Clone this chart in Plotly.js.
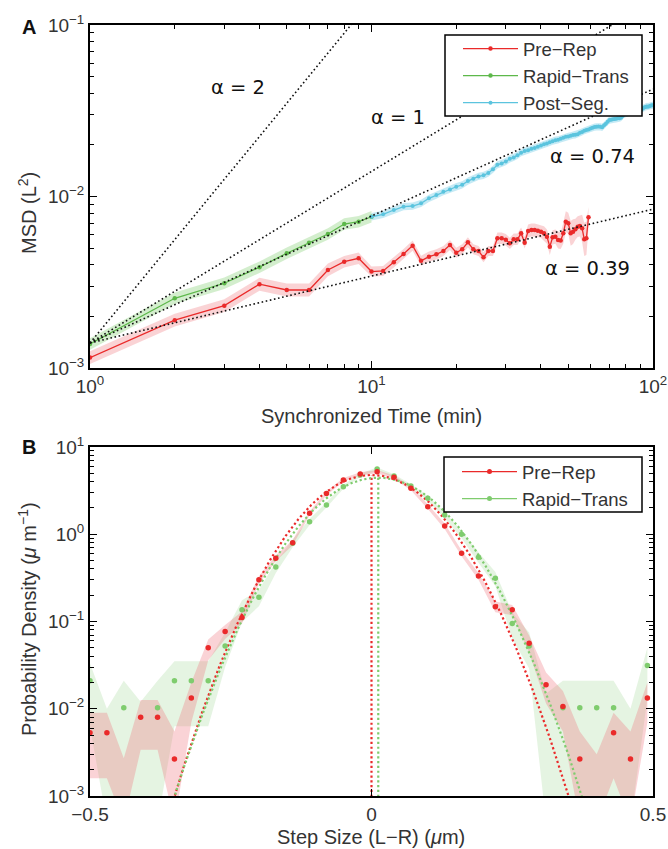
<!DOCTYPE html>
<html><head><meta charset="utf-8">
<script src="https://cdn.plot.ly/plotly-3.0.1.min.js"></script>
<style>body{margin:0;background:#fff}#chart{width:668px;height:849px}</style>
</head><body><div id="chart"></div>
<script>
// ---------- Panel A data ----------
const preRepT = [1,2,3,4,5,6,7,8,9,10,11,12,13,14,15,16,17,18,19,20,21,22,23,24,25,26,27,28,29,30,31,32,33,34,35,36,37,38,39,40,41,42,43,44,45,46,47,48,49,50,51,52,53,54,55,56,57,58,59];
const preRepMSD = [1.15e-3,1.90e-3,2.31e-3,3.08e-3,2.85e-3,2.85e-3,3.73e-3,4.17e-3,4.36e-3,3.65e-3,
  3.68e-3,4.13e-3,4.62e-3,5.17e-3,4.22e-3,4.46e-3,4.60e-3,4.81e-3,5.21e-3,4.70e-3,
  4.92e-3,5.41e-3,4.92e-3,4.81e-3,4.42e-3,4.81e-3,4.81e-3,5.71e-3,5.71e-3,5.60e-3,
  5.33e-3,5.63e-3,5.63e-3,6.10e-3,5.38e-3,6.29e-3,6.38e-3,6.38e-3,6.32e-3,6.24e-3,
  6.10e-3,5.83e-3,5.10e-3,5.78e-3,5.83e-3,5.58e-3,5.53e-3,6.10e-3,7.13e-3,6.98e-3,
  6.10e-3,6.24e-3,6.44e-3,6.67e-3,6.73e-3,6.52e-3,5.63e-3,5.70e-3,7.56e-3];
const preRepErr = [0.09,0.09,0.09,0.09,0.09,0.09,0.09,0.08,0.08,0.07,
  0.07,0.07,0.07,0.07,0.07,0.07,0.07,0.07,0.07,0.07,
  0.07,0.07,0.07,0.07,0.07,0.07,0.07,0.08,0.08,0.08,
  0.08,0.08,0.08,0.08,0.08,0.09,0.09,0.09,0.09,0.09,
  0.10,0.10,0.12,0.10,0.10,0.12,0.12,0.15,0.15,0.15,
  0.18,0.18,0.15,0.15,0.15,0.20,0.25,0.25,0.15];

const rapidT = [1,2,3,4,5,6,7,8,9,10];
const rapidMSD = [1.38e-3,2.55e-3,3.12e-3,3.87e-3,4.67e-3,5.38e-3,6.04e-3,6.91e-3,7.13e-3,7.62e-3];
const rapidErr = 0.08;

const postT = [10,11,12,13,14,15,16,17,18,19,20,21,22,23,24,25,26,27,28,29,30,31,32,33,34,35,36,37,38,39,40,41,42,43,44,45,46,47,48,49,50,51,52,53,54,55,56,57,58,59,60,61,62,63,64,65,66,67,68,69,70,71,72,73,74,75,76,77,78,79,80,81,82,83,84,85,86,87,88,89,90,91,92,93,94,95,96,97,98,99,100];
const postMSD = [7.62e-3,7.87e-3,8.34e-3,8.72e-3,8.80e-3,9.12e-3,9.76e-3,1.02e-2,1.067e-2,1.10e-2,
  1.14e-2,1.17e-2,1.23e-2,1.27e-2,1.31e-2,1.33e-2,1.37e-2,1.44e-2,1.53e-2,1.56e-2,
  1.60e-2,1.66e-2,1.69e-2,1.74e-2,1.80e-2,1.84e-2,1.86e-2,1.90e-2,1.92e-2,1.95e-2,
  1.98e-2,2.02e-2,2.04e-2,2.07e-2,2.10e-2,2.13e-2,2.14e-2,2.17e-2,2.20e-2,2.23e-2,
  2.24e-2,2.26e-2,2.28e-2,2.29e-2,2.31e-2,2.35e-2,2.38e-2,2.42e-2,2.44e-2,2.46e-2,
  2.49e-2,2.52e-2,2.54e-2,2.55e-2,2.56e-2,2.55e-2,2.53e-2,2.60e-2,2.66e-2,2.73e-2,
  2.79e-2,2.80e-2,2.82e-2,2.83e-2,2.84e-2,2.86e-2,2.86e-2,2.88e-2,2.95e-2,3.02e-2,
  3.06e-2,3.07e-2,3.08e-2,3.10e-2,3.12e-2,3.14e-2,3.15e-2,3.16e-2,3.18e-2,3.19e-2,
  3.19e-2,3.22e-2,3.26e-2,3.30e-2,3.33e-2,3.35e-2,3.34e-2,3.36e-2,3.38e-2,3.40e-2,3.41e-2];
const postErr = 0.05;

// reference power laws MSD = refPrefactor * t^alpha
const refAlphas = [2, 1, 0.74, 0.39];
const refLabels = ['α = 2', 'α = 1', 'α = 0.74', 'α = 0.39'];
const refPrefactor = 1.4e-3;
const refTRange = [1, 100];

// ---------- Panel B data ----------
const stepBins = [-0.50,-0.47,-0.44,-0.41,-0.38,-0.35,-0.32,-0.29,-0.26,-0.23,-0.20,-0.17,-0.14,-0.11,-0.08,-0.05,-0.02,0.01,0.04,0.07,0.10,0.13,0.16,0.19,0.22,0.25,0.28,0.31,0.34,0.37,0.40,0.43,0.46,0.49];
const preRepPD = [5.3e-3,5.3e-3,null,8.0e-3,8.0e-3,2.65e-3,1.33e-2,5.0e-2,7.7e-2,0.111,0.30,0.53,0.80,1.74,2.94,4.19,4.91,5.21,4.5,3.36,2.07,1.24,0.605,0.333,0.148,0.136,0.0564,0.0188,0.0106,2.65e-3,null,5.3e-3,2.65e-3,1.33e-2];
const preRepLo = [1.6e-3,1.6e-3,5e-4,3.4e-3,3.4e-3,5e-4,7.0e-3,3.6e-2,6.3e-2,0.095,0.27,0.49,0.75,1.65,2.8,4.0,4.7,5.0,4.3,3.2,1.95,1.15,0.56,0.30,0.128,0.118,0.044,0.0115,5.5e-3,5e-4,5e-4,1.6e-3,5e-4,7.0e-3];
const preRepHi = [9.0e-3,9.0e-3,2.7e-3,1.26e-2,1.26e-2,5.5e-3,2.0e-2,6.2e-2,9.1e-2,0.13,0.33,0.57,0.86,1.83,3.1,4.4,5.15,5.45,4.7,3.55,2.2,1.33,0.65,0.36,0.17,0.155,0.069,0.026,1.6e-2,5.5e-3,3.0e-3,9.0e-3,5.5e-3,2.0e-2];
const rapidPD = [0.0209,null,0.0103,null,0.0103,0.0209,0.0209,0.0209,0.0525,0.136,0.19,0.42,0.79,1.39,2.17,3.51,4.77,5.6,4.65,3.57,2.58,1.66,1.0,0.546,0.313,0.095,0.0525,null,0.0103,0.0103,0.0103,0.0103,null,0.0313];
const rapidLo = [6.3e-3,5e-4,5e-4,5e-4,5e-4,6.3e-3,6.3e-3,6.3e-3,0.03,0.098,0.15,0.36,0.71,1.28,2.03,3.33,4.56,5.37,4.44,3.39,2.42,1.53,0.9,0.47,0.255,0.064,0.029,5e-4,5e-4,5e-4,5e-4,5e-4,5e-4,0.013];
const rapidHi = [3.3e-2,1.0e-2,2.1e-2,1.2e-2,2.1e-2,3.5e-2,3.5e-2,3.5e-2,0.075,0.175,0.23,0.48,0.87,1.5,2.31,3.69,4.98,5.83,4.86,3.75,2.74,1.79,1.1,0.62,0.37,0.126,0.075,1.5e-2,2.1e-2,2.1e-2,2.1e-2,2.1e-2,1.0e-2,0.05];
// Gaussian fits: [amplitude, mean, sigma]
const preRepFit = [4.78, 0.0, 0.085];
const rapidFit = [4.45, 0.012, 0.0883];

// ---------- styling ----------
const RED = '#ea2a2a', GREEN = '#5db84a', CYAN = '#5bc4de', GREENB = '#7fcc6e';
const FONT = 'Liberation Sans, Arial, Helvetica, sans-serif';
const TXT = '#333';

function band(x, lo, hi, color, xa, ya) {
  return {x: x.concat(x.slice().reverse()), y: hi.concat(lo.slice().reverse()),
    fill: 'toself', fillcolor: color, line: {width: 0}, mode: 'lines',
    hoverinfo: 'skip', showlegend: false, xaxis: xa, yaxis: ya};
}
function relBand(x, v, err, color) {
  const e = Array.isArray(err) ? err : v.map(() => err);
  return band(x, v.map((d, i) => d / (1 + e[i])), v.map((d, i) => d * (1 + e[i])), color, 'x', 'y');
}

const traces = [];
traces.push(relBand(preRepT, preRepMSD, preRepErr, 'rgba(240,110,115,0.30)'));
traces.push(relBand(rapidT, rapidMSD, rapidErr, 'rgba(110,200,90,0.30)'));
traces.push(relBand(postT, postMSD, postErr, 'rgba(90,195,225,0.35)'));
traces.push({x: preRepT, y: preRepMSD, mode: 'lines+markers', name: 'Pre\u2212Rep',
  line: {color: RED, width: 1.3}, marker: {color: RED, size: 4.5}, xaxis: 'x', yaxis: 'y', legend: 'legend'});
traces.push({x: rapidT, y: rapidMSD, mode: 'lines+markers', name: 'Rapid\u2212Trans',
  line: {color: GREEN, width: 1.3}, marker: {color: GREEN, size: 4.5}, xaxis: 'x', yaxis: 'y', legend: 'legend'});
traces.push({x: postT, y: postMSD, mode: 'lines+markers', name: 'Post\u2212Seg.',
  line: {color: CYAN, width: 1.3}, marker: {color: CYAN, size: 4}, xaxis: 'x', yaxis: 'y', legend: 'legend'});
refAlphas.forEach(a => {
  traces.push({x: refTRange, y: refTRange.map(t => refPrefactor * Math.pow(t, a)), mode: 'lines',
    line: {color: '#111', width: 1.6, dash: '1.6px,2.6px'}, showlegend: false, hoverinfo: 'skip', xaxis: 'x', yaxis: 'y'});
});

// Panel B
traces.push(band(stepBins, rapidLo, rapidHi, 'rgba(150,210,140,0.25)', 'x2', 'y2'));
traces.push(band(stepBins, preRepLo, preRepHi, 'rgba(240,110,120,0.30)', 'x2', 'y2'));
function gaussCurve(p) {
  const xs = [], ys = [];
  for (let x = -0.5; x <= 0.5001; x += 0.0025) { xs.push(x); ys.push(p[0] * Math.exp(-Math.pow(x - p[1], 2) / (2 * p[2] * p[2]))); }
  return {xs, ys};
}
[[preRepFit, RED], [rapidFit, GREENB]].forEach(([p, c]) => {
  const g = gaussCurve(p);
  traces.push({x: g.xs, y: g.ys, mode: 'lines', line: {color: c, width: 2.2, dash: '2.2px,2.6px'},
    showlegend: false, hoverinfo: 'skip', xaxis: 'x2', yaxis: 'y2'});
  traces.push({x: [p[1], p[1]], y: [1e-4, p[0]], mode: 'lines', line: {color: c, width: 2.2, dash: '2.2px,2.6px'},
    showlegend: false, hoverinfo: 'skip', xaxis: 'x2', yaxis: 'y2'});
});
traces.push({x: stepBins, y: rapidPD, mode: 'markers', marker: {color: GREENB, size: 5.5},
  showlegend: false, xaxis: 'x2', yaxis: 'y2'});
traces.push({x: stepBins, y: preRepPD, mode: 'markers', marker: {color: RED, size: 5.5},
  showlegend: false, xaxis: 'x2', yaxis: 'y2'});
traces.push({x: [null], y: [null], mode: 'lines+markers', name: 'Pre\u2212Rep', line: {color: RED, width: 1.3},
  marker: {color: RED, size: 5}, xaxis: 'x2', yaxis: 'y2', legend: 'legend2'});
traces.push({x: [null], y: [null], mode: 'lines+markers', name: 'Rapid\u2212Trans', line: {color: GREENB, width: 1.3},
  marker: {color: GREENB, size: 5}, xaxis: 'x2', yaxis: 'y2', legend: 'legend2'});

// ---------- axes ----------
const W = 668, H = 849;
const px = v => v / W, py = v => 1 - v / H;
const baseAxis = {showline: true, linecolor: '#000', linewidth: 2, mirror: 'allticks', ticks: 'inside',
  ticklen: 7, tickwidth: 1.3, tickcolor: '#000', showgrid: false, zeroline: false,
  tickfont: {family: FONT, size: 19, color: TXT}, tickmode: 'array'};
const minorLog = (vals) => ({tickmode: 'array', tickvals: vals, ticks: 'inside', ticklen: 4, tickwidth: 1, tickcolor: '#000', showgrid: false});
const legendStyle = {xanchor: 'left', yanchor: 'top', bgcolor: 'rgba(0,0,0,0)', borderwidth: 0,
  font: {family: FONT, size: 18.5, color: TXT}, tracegroupgap: 0, itemwidth: 55};

const layout = {
  width: W, height: H, margin: {l: 0, r: 0, t: 0, b: 0}, paper_bgcolor: '#fff', plot_bgcolor: '#fff',
  font: {family: FONT, color: TXT},
  xaxis: Object.assign({}, baseAxis, {type: 'log', range: [0, 2], domain: [px(90), px(653)], anchor: 'y',
    tickvals: [1, 10, 100], ticktext: ['10<sup>0</sup>', '10<sup>1</sup>', '10<sup>2</sup>'],
    minor: minorLog([2,3,4,5,6,7,8,9,20,30,40,50,60,70,80,90])}),
  yaxis: Object.assign({}, baseAxis, {type: 'log', range: [-3, -1], domain: [py(368), py(25)], anchor: 'x',
    tickvals: [1e-3, 1e-2, 1e-1], ticktext: ['10<sup>\u22123</sup>', '10<sup>\u22122</sup>', '10<sup>\u22121</sup>'],
    minor: minorLog([2e-3,3e-3,4e-3,5e-3,6e-3,7e-3,8e-3,9e-3,2e-2,3e-2,4e-2,5e-2,6e-2,7e-2,8e-2,9e-2])}),
  xaxis2: Object.assign({}, baseAxis, {range: [-0.5, 0.5], domain: [px(90), px(653)], anchor: 'y2',
    tickvals: [-0.5, 0, 0.5], ticktext: ['\u22120.5', '0', '0.5']}),
  yaxis2: Object.assign({}, baseAxis, {type: 'log', range: [-3, 1], domain: [py(796), py(447)], anchor: 'x2',
    tickvals: [1e-3, 1e-2, 1e-1, 1, 10],
    ticktext: ['10<sup>\u22123</sup>', '10<sup>\u22122</sup>', '10<sup>\u22121</sup>', '10<sup>0</sup>', '10<sup>1</sup>'],
    minor: minorLog([2e-3,3e-3,4e-3,5e-3,6e-3,7e-3,8e-3,9e-3,2e-2,3e-2,4e-2,5e-2,6e-2,7e-2,8e-2,9e-2,
      0.2,0.3,0.4,0.5,0.6,0.7,0.8,0.9,2,3,4,5,6,7,8,9])}),
  legend: Object.assign({}, legendStyle, {x: px(458), y: py(30)}),
  legend2: Object.assign({}, legendStyle, {x: px(457), y: py(453)}),
  shapes: [
    {type: 'rect', xref: 'paper', yref: 'paper', x0: px(445), x1: px(642), y0: py(116), y1: py(35),
      line: {color: '#000', width: 1.5}, fillcolor: '#fff', layer: 'above'},
    {type: 'rect', xref: 'paper', yref: 'paper', x0: px(444), x1: px(642), y0: py(512), y1: py(457),
      line: {color: '#000', width: 1.5}, fillcolor: '#fff', layer: 'above'}
  ],
  annotations: []
};
const ann = (text, x, y, opts) => Object.assign({text, x: px(x), y: py(y), xref: 'paper', yref: 'paper',
  showarrow: false, xanchor: 'center', yanchor: 'middle', font: {family: FONT, size: 20, color: TXT}}, opts || {});
layout.annotations.push(ann('<b>A</b>', 29, 27, {font: {family: FONT, size: 20, color: '#111'}}));
layout.annotations.push(ann('<b>B</b>', 29, 447, {font: {family: FONT, size: 20, color: '#111'}}));
const refLabelPos = [[238, 88], [398, 118], [592, 157], [587, 268]];
refLabels.forEach((t, i) => layout.annotations.push(ann(t, refLabelPos[i][0], refLabelPos[i][1],
  {font: {family: 'DejaVu Sans, sans-serif', size: 19.5, color: '#111'}})));
layout.annotations.push(ann('MSD (L<sup>2</sup>)', 27, 213, {textangle: -90}));
layout.annotations.push(ann('Synchronized Time (min)', 371, 416));
layout.annotations.push(ann('Probability Density (<i>\u03bc</i> m<sup>\u22121</sup>)', 27, 619, {textangle: -90}));
layout.annotations.push(ann('Step Size (L\u2212R) (<i>\u03bc</i>m)', 371, 837));

Plotly.newPlot('chart', traces, layout, {displayModeBar: false, staticPlot: true});
</script></body></html>
